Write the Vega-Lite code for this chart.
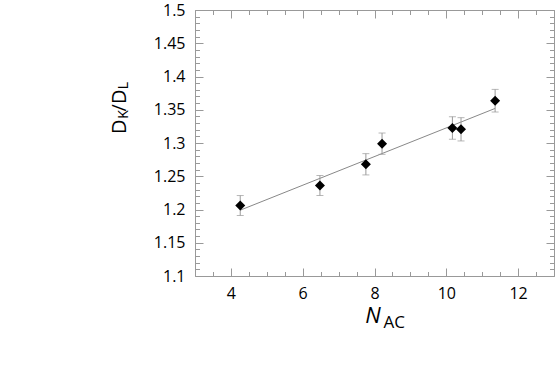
{
  "$schema": "https://vega.github.io/schema/vega-lite/v6.json",
  "width": 359,
  "height": 266,
  "autosize": "none",
  "padding": {"left": 195, "top": 10, "right": 1, "bottom": 96},
  "config": {"view": {"stroke": null}, "font": "Open Sans"},
  "datasets": {
    "points": [
      {"x": 4.26, "y": 1.206, "err": 0.015},
      {"x": 6.48, "y": 1.236, "err": 0.015},
      {"x": 7.76, "y": 1.268, "err": 0.016},
      {"x": 8.21, "y": 1.299, "err": 0.016},
      {"x": 10.17, "y": 1.3226, "err": 0.017},
      {"x": 10.41, "y": 1.3206, "err": 0.0175},
      {"x": 11.36, "y": 1.3636, "err": 0.017}
    ],
    "fit": [
      {"x": 4.26, "y": 1.199},
      {"x": 11.36, "y": 1.352}
    ],
    "one": [{}]
  },
  "resolve": {"axis": {"x": "independent", "y": "independent"}},
  "layer": [
    {
      "data": {"name": "fit"},
      "mark": {"type": "line", "color": "#888", "strokeWidth": 1},
      "encoding": {
        "x": {"field": "x", "type": "quantitative", "scale": {"domain": [3, 13], "nice": false, "zero": false},
          "axis": {"orient": "bottom", "title": null, "grid": false,
            "values": [3, 3.5, 4, 4.5, 5, 5.5, 6, 6.5, 7, 7.5, 8, 8.5, 9, 9.5, 10, 10.5, 11, 11.5, 12, 12.5, 13],
            "tickSize": {"condition": {"test": "datum.value % 2 == 0", "value": -8}, "value": -4.5},
            "labelExpr": "datum.value % 2 == 0 ? format(datum.value, 'd') : ''",
            "labelOverlap": false, "labelFlush": false, "labelPadding": 17,
            "labelFontSize": 16, "labelFont": "Open Sans", "labelColor": "#000",
            "domainColor": "#999", "tickColor": "#999", "tickWidth": 1}},
        "y": {"field": "y", "type": "quantitative", "scale": {"domain": [1.1, 1.5], "nice": false, "zero": false},
          "axis": {"orient": "left", "title": null, "grid": false,
            "values": [1.1, 1.11, 1.12, 1.13, 1.14, 1.15, 1.16, 1.17, 1.18, 1.19, 1.2, 1.21, 1.22, 1.23, 1.24, 1.25, 1.26, 1.27, 1.28, 1.29, 1.3, 1.31, 1.32, 1.33, 1.34, 1.35, 1.36, 1.37, 1.38, 1.39, 1.4, 1.41, 1.42, 1.43, 1.44, 1.45, 1.46, 1.47, 1.48, 1.49, 1.5],
            "tickSize": {"condition": {"test": "round(datum.value * 100) % 5 == 0", "value": -8}, "value": -4.5},
            "labelExpr": "round(datum.value * 100) % 5 == 0 ? format(datum.value, '.2~f') : ''",
            "labelOverlap": false, "labelFlush": false, "labelPadding": 18,
            "labelFontSize": 16, "labelFont": "Open Sans", "labelColor": "#000",
            "domainColor": "#999", "tickColor": "#999", "tickWidth": 1}}
      }
    },
    {
      "data": {"name": "points"},
      "mark": {"type": "errorbar", "color": "#999", "thickness": 1, "ticks": {"size": 7, "color": "#999"}},
      "encoding": {
        "x": {"field": "x", "type": "quantitative", "axis": null},
        "y": {"field": "y", "type": "quantitative", "axis": null},
        "yError": {"field": "err"}
      }
    },
    {
      "data": {"name": "points"},
      "mark": {"type": "point", "shape": "diamond", "filled": true, "color": "#000", "opacity": 1, "size": 100},
      "encoding": {
        "x": {"field": "x", "type": "quantitative",
          "axis": {"orient": "top", "title": null, "grid": false, "labels": false,
            "values": [3, 3.5, 4, 4.5, 5, 5.5, 6, 6.5, 7, 7.5, 8, 8.5, 9, 9.5, 10, 10.5, 11, 11.5, 12, 12.5, 13],
            "tickSize": {"condition": {"test": "datum.value % 2 == 0", "value": -8}, "value": -4.5},
            "domainColor": "#999", "tickColor": "#999", "tickWidth": 1}},
        "y": {"field": "y", "type": "quantitative",
          "axis": {"orient": "right", "title": null, "grid": false, "labels": false,
            "values": [1.1, 1.11, 1.12, 1.13, 1.14, 1.15, 1.16, 1.17, 1.18, 1.19, 1.2, 1.21, 1.22, 1.23, 1.24, 1.25, 1.26, 1.27, 1.28, 1.29, 1.3, 1.31, 1.32, 1.33, 1.34, 1.35, 1.36, 1.37, 1.38, 1.39, 1.4, 1.41, 1.42, 1.43, 1.44, 1.45, 1.46, 1.47, 1.48, 1.49, 1.5],
            "tickSize": {"condition": {"test": "round(datum.value * 100) % 5 == 0", "value": -8}, "value": -4.5},
            "domainColor": "#999", "tickColor": "#999", "tickWidth": 1}}
      }
    },
    {
      "data": {"name": "one"},
      "mark": {"type": "text", "angle": 270, "align": "left", "baseline": "alphabetic", "fontSize": 20, "font": "Open Sans", "color": "#000"},
      "encoding": {
        "x": {"datum": 1.078, "type": "quantitative", "axis": null},
        "y": {"datum": 1.3135, "type": "quantitative", "axis": null},
        "text": {"value": "D"}
      }
    },
    {
      "data": {"name": "one"},
      "mark": {"type": "text", "angle": 270, "align": "left", "baseline": "alphabetic", "fontSize": 14, "font": "Open Sans", "color": "#000"},
      "encoding": {
        "x": {"datum": 1.134, "type": "quantitative", "axis": null},
        "y": {"datum": 1.3365, "type": "quantitative", "axis": null},
        "text": {"value": "K"}
      }
    },
    {
      "data": {"name": "one"},
      "mark": {"type": "text", "angle": 270, "align": "left", "baseline": "alphabetic", "fontSize": 20, "font": "Open Sans", "color": "#000"},
      "encoding": {
        "x": {"datum": 1.078, "type": "quantitative", "axis": null},
        "y": {"datum": 1.3475, "type": "quantitative", "axis": null},
        "text": {"value": "/D"}
      }
    },
    {
      "data": {"name": "one"},
      "mark": {"type": "text", "angle": 270, "align": "left", "baseline": "alphabetic", "fontSize": 14, "font": "Open Sans", "color": "#000"},
      "encoding": {
        "x": {"datum": 1.134, "type": "quantitative", "axis": null},
        "y": {"datum": 1.381, "type": "quantitative", "axis": null},
        "text": {"value": "L"}
      }
    },
    {
      "data": {"name": "one"},
      "mark": {"type": "text", "align": "left", "baseline": "alphabetic", "fontSize": 22, "fontStyle": "italic", "font": "Open Sans", "color": "#000"},
      "encoding": {
        "x": {"datum": 7.74, "type": "quantitative", "axis": null},
        "y": {"datum": 1.0293, "type": "quantitative", "axis": null},
        "text": {"value": "N"}
      }
    },
    {
      "data": {"name": "one"},
      "mark": {"type": "text", "align": "left", "baseline": "alphabetic", "fontSize": 17, "font": "Open Sans", "color": "#000"},
      "encoding": {
        "x": {"datum": 8.25, "type": "quantitative", "axis": null},
        "y": {"datum": 1.0218, "type": "quantitative", "axis": null},
        "text": {"value": "AC"}
      }
    }
  ]
}
